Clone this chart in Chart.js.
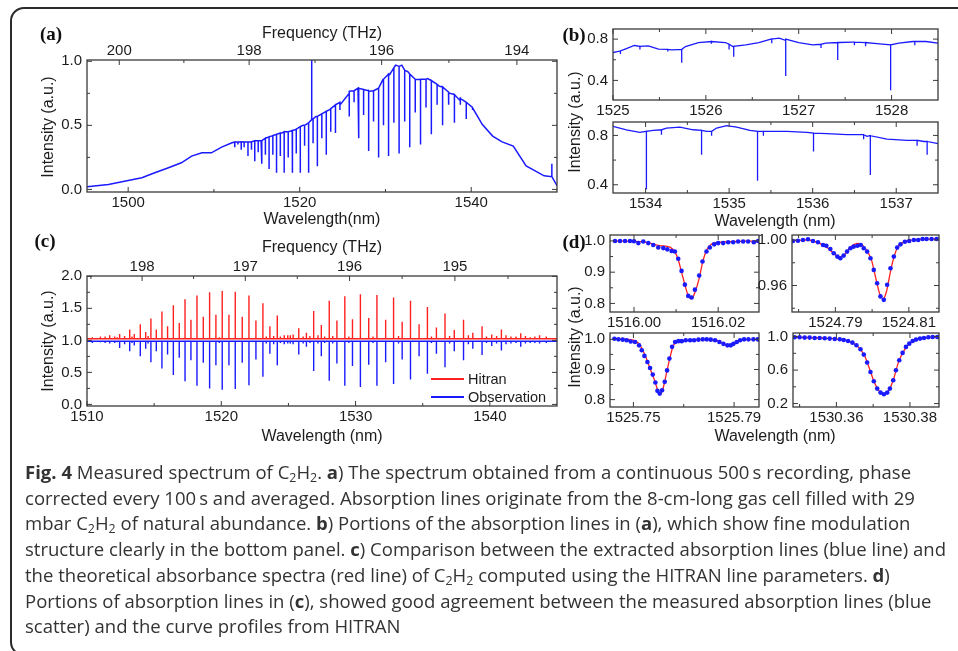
<!DOCTYPE html>
<html>
<head>
<meta charset="utf-8">
<script src="https://cdn.jsdelivr.net/npm/chart.js@4.4.1/dist/chart.umd.min.js"></script>
<style>
  body { margin: 0; width: 958px; height: 651px; overflow: hidden; position: relative; background: #fff;
         font-family: "Liberation Sans", Arial, sans-serif; color: #1c1c1c; }
  canvas { position: absolute; left: 0; top: 0; }
  .frame { position: absolute; left: 10px; top: 7px; width: 1000px; height: 645px;
           border: 2px solid #2b2b2b; border-radius: 14px; }
  .t { position: absolute; transform: translate(-50%, -50%); white-space: nowrap; font-size: 16px; }
  .r { transform: translate(-50%, -50%) rotate(-90deg); }
  .p { font-family: "Liberation Serif", "Times New Roman", serif; font-weight: bold; font-size: 19px; color: #111; }
  .leg { position: absolute; height: 2px; width: 33px; }
  .legt { position: absolute; transform: translateY(-50%); font-size: 14.5px; white-space: nowrap; }
  #caption { position: absolute; left: 25px; top: 460px; font-family: "Open Sans", "Noto Sans", sans-serif;
             font-size: 18px; line-height: 25.7px; color: #333; transform-origin: 0 0; white-space: nowrap; }
  #caption sub { font-size: 12px; line-height: 0; vertical-align: -3px; }
</style>
</head>
<body>
<div class="frame"></div>
<canvas id="pa" width="958" height="651"></canvas>
<canvas id="pb1" width="958" height="651"></canvas>
<canvas id="pb2" width="958" height="651"></canvas>
<canvas id="pc" width="958" height="651"></canvas>
<canvas id="pd1" width="958" height="651"></canvas>
<canvas id="pd2" width="958" height="651"></canvas>
<canvas id="pd3" width="958" height="651"></canvas>
<canvas id="pd4" width="958" height="651"></canvas>

<div class="t p" style="left:51px;top:34px">(a)</div>
<div class="t" style="left:322px;top:33px">Frequency (THz)</div>
<div class="t" style="left:322px;top:219px">Wavelength(nm)</div>
<div class="t r" style="left:48px;top:127px">Intensity (a.u.)</div>

<div class="t p" style="left:574px;top:35px">(b)</div>
<div class="t r" style="left:575px;top:122px">Intensity (a.u.)</div>
<div class="t" style="left:775px;top:221px">Wavelength (nm)</div>

<div class="t p" style="left:45px;top:241px">(c)</div>
<div class="t" style="left:322px;top:247px">Frequency (THz)</div>
<div class="t" style="left:322px;top:436px">Wavelength (nm)</div>
<div class="t r" style="left:48px;top:341px">Intensity (a.u.)</div>
<div class="leg" style="left:431px;top:378px;background:#ff2020"></div>
<div class="legt" style="left:468px;top:379px">Hitran</div>
<div class="leg" style="left:431px;top:396px;background:#1a1aff"></div>
<div class="legt" style="left:468px;top:397px">Observation</div>

<div class="t p" style="left:574px;top:242px">(d)</div>
<div class="t r" style="left:575px;top:337px">Intensity (a.u.)</div>
<div class="t" style="left:775px;top:436px">Wavelength (nm)</div>

<div id="caption">
  <div><span><b>Fig. 4</b> Measured spectrum of C<sub>2</sub>H<sub>2</sub>. <b>a</b>) The spectrum obtained from a continuous 500&#8201;s recording, phase</span></div>
  <div><span>corrected every 100&#8201;s and averaged. Absorption lines originate from the 8-cm-long gas cell filled with 29</span></div>
  <div><span>mbar C<sub>2</sub>H<sub>2</sub> of natural abundance. <b>b</b>) Portions of the absorption lines in (<b>a</b>), which show fine modulation</span></div>
  <div><span id="capref">structure clearly in the bottom panel. <b>c</b>) Comparison between the extracted absorption lines (blue line) and</span></div>
  <div><span>the theoretical absorbance spectra (red line) of C<sub>2</sub>H<sub>2</sub> computed using the HITRAN line parameters. <b>d</b>)</span></div>
  <div><span>Portions of absorption lines in (<b>c</b>), showed good agreement between the measured absorption lines (blue</span></div>
  <div><span>scatter) and the curve profiles from HITRAN</span></div>
</div>

<script>
// ---------------- data ----------------
const C_NM_THZ = 299792.458;

// (a) full spectrum: smooth envelope + absorption dips + two spikes
const aEnvWl = [1495.2, 1497.7, 1500.0, 1501.6, 1503.1, 1504.7, 1506.2, 1507.4, 1508.6, 1509.7,
  1510.9, 1512.1, 1513.2, 1514.4, 1515.5, 1516.7, 1517.9, 1519.2, 1520.4, 1521.9,
  1523.5, 1524.7, 1525.8, 1526.8, 1528.1, 1528.9, 1529.7, 1530.5, 1531.2, 1531.9,
  1532.6, 1533.6, 1534.9, 1536.3, 1537.4, 1538.6, 1540.2, 1541.3, 1542.5, 1543.6,
  1544.9, 1546.4, 1548.5, 1550.0];
const aEnvI = [0.021, 0.039, 0.070, 0.091, 0.130, 0.169, 0.208, 0.260, 0.286, 0.286,
  0.330, 0.364, 0.371, 0.371, 0.380, 0.416, 0.440, 0.460, 0.500, 0.570,
  0.623, 0.660, 0.766, 0.790, 0.766, 0.780, 0.857, 0.896, 0.970, 0.970,
  0.920, 0.857, 0.865, 0.805, 0.753, 0.700, 0.636, 0.506, 0.416, 0.371,
  0.338, 0.184, 0.106, 0.029];
const aDipWl = [1512.43, 1512.8, 1513.18, 1513.52, 1513.97, 1514.37, 1514.76, 1515.16, 1515.58, 1516.0,
  1516.43, 1516.87, 1517.3, 1517.74, 1518.19, 1518.66, 1519.13, 1519.6, 1520.07, 1520.57,
  1521.04, 1521.56, 1522.06, 1522.58, 1523.1, 1523.62, 1524.17, 1524.69,
  1525.77, 1526.34, 1526.88, 1527.45, 1528.04, 1528.61, 1529.2, 1529.77, 1530.36, 1530.98,
  1531.59, 1532.24, 1532.83, 1533.47, 1534.09, 1534.73, 1535.35, 1536.02, 1536.66, 1537.35,
  1538.04, 1538.73, 1539.42, 1540.14];
const aDipTop = [0.37, 0.37, 0.37, 0.37, 0.37, 0.37, 0.38, 0.38, 0.38, 0.40,
  0.41, 0.42, 0.43, 0.44, 0.45, 0.45, 0.46, 0.47, 0.49, 0.50,
  0.52, 0.55, 0.57, 0.59, 0.61, 0.63, 0.66, 0.68,
  0.75, 0.77, 0.79, 0.78, 0.77, 0.77, 0.79, 0.86, 0.90, 0.95,
  0.96, 0.93, 0.90, 0.86, 0.86, 0.86, 0.85, 0.82, 0.80, 0.76,
  0.74, 0.71, 0.68, 0.64];
const aDipLow = [0.33, 0.35, 0.31, 0.33, 0.26, 0.31, 0.22, 0.29, 0.20, 0.27,
  0.16, 0.27, 0.13, 0.26, 0.13, 0.25, 0.13, 0.28, 0.13, 0.34,
  0.13, 0.36, 0.18, 0.40, 0.27, 0.45, 0.44, 0.62,
  0.57, 0.68, 0.40, 0.58, 0.30, 0.53, 0.25, 0.50, 0.26, 0.52,
  0.28, 0.53, 0.33, 0.60, 0.35, 0.64, 0.43, 0.66, 0.50, 0.66,
  0.52, 0.66, 0.55, 0.62];
const aSpikeWl = [1521.4, 1549.4];
const aSpikeBase = [0.545, 0.10];
const aSpikeTop = [1.02, 0.20];
const aXMajor = [1500, 1520, 1540], aXMinor = [1510, 1530];
const aYMajor = [0, 0.5, 1.0], aYMinor = [0.25, 0.75];
const aFreqMajor = [200, 198, 196, 194], aFreqMinor = [199, 197, 195];

// (b) zoomed portions
const bTopEnvWl = [1525.00, 1525.13, 1525.23, 1525.38, 1525.49, 1525.63, 1525.78, 1525.92, 1526.06, 1526.21,
  1526.29, 1526.43, 1526.57, 1526.71, 1526.79, 1526.86, 1527.00, 1527.15, 1527.29, 1527.44,
  1527.58, 1527.72, 1527.87, 1527.99, 1528.08, 1528.23, 1528.37, 1528.50];
const bTopEnvI = [0.670, 0.702, 0.738, 0.735, 0.702, 0.696, 0.728, 0.767, 0.777, 0.767,
  0.728, 0.744, 0.767, 0.803, 0.809, 0.787, 0.767, 0.744, 0.761, 0.767,
  0.770, 0.767, 0.754, 0.744, 0.761, 0.777, 0.777, 0.761];
const bTopDipWl = [1525.08, 1525.29, 1525.59, 1525.74, 1526.06, 1526.25, 1526.30, 1526.71, 1526.86, 1527.24,
  1527.42, 1527.60, 1527.72, 1527.99, 1528.25];
const bTopDipTop = [0.685, 0.73, 0.70, 0.70, 0.777, 0.75, 0.73, 0.80, 0.80, 0.75,
  0.767, 0.77, 0.767, 0.744, 0.777];
const bTopDipLow = [0.655, 0.70, 0.68, 0.572, 0.754, 0.70, 0.63, 0.76, 0.442, 0.715,
  0.598, 0.74, 0.73, 0.305, 0.74];
const bBotEnvWl = [1533.61, 1533.77, 1533.93, 1534.09, 1534.25, 1534.41, 1534.57, 1534.73, 1534.85, 1534.97,
  1535.09, 1535.25, 1535.45, 1535.69, 1535.93, 1536.17, 1536.41, 1536.65, 1536.89, 1537.13,
  1537.33, 1537.50];
const bBotEnvI = [0.873, 0.846, 0.825, 0.841, 0.860, 0.868, 0.846, 0.833, 0.860, 0.879,
  0.868, 0.841, 0.833, 0.833, 0.825, 0.814, 0.806, 0.792, 0.770, 0.760,
  0.751, 0.733];
const bBotDipWl = [1534.01, 1534.19, 1534.67, 1534.79, 1535.34, 1535.41, 1536.01, 1536.61, 1536.69, 1537.25, 1537.37];
const bBotDipTop = [0.833, 0.846, 0.841, 0.833, 0.833, 0.833, 0.819, 0.806, 0.798, 0.760, 0.751];
const bBotDipLow = [0.364, 0.806, 0.643, 0.798, 0.432, 0.798, 0.670, 0.770, 0.480, 0.716, 0.643];

// (c) HITRAN vs observation, line positions and heights
const hitranBase = 1.025, obsBase = 0.985;
const cLineWl = [1511.0, 1511.69, 1512.06, 1512.43, 1512.8, 1513.18, 1513.52, 1513.97, 1514.37, 1514.76,
  1515.16, 1515.58, 1516.0, 1516.43, 1516.87, 1517.3, 1517.74, 1518.19, 1518.66, 1519.13,
  1519.6, 1520.07, 1520.57, 1521.04, 1521.56, 1522.06, 1522.58, 1523.1, 1523.62, 1524.17,
  1524.69, 1525.14,
  1525.77, 1526.34, 1526.88, 1527.45, 1528.04, 1528.61, 1529.2, 1529.77, 1530.36, 1530.98,
  1531.59, 1532.24, 1532.83, 1533.47, 1534.09, 1534.73, 1535.35, 1536.02, 1536.66, 1537.35,
  1538.04, 1538.73, 1539.42, 1540.14, 1540.86, 1541.57, 1542.3, 1543.0];
const cHitranPeak = [1.06, 1.08, 1.06, 1.10, 1.07, 1.17, 1.10, 1.25, 1.13, 1.34,
  1.17, 1.45, 1.22, 1.55, 1.27, 1.64, 1.32, 1.70, 1.37, 1.75,
  1.40, 1.77, 1.40, 1.76, 1.37, 1.70, 1.31, 1.58, 1.22, 1.39,
  1.08, 1.08,
  1.19, 1.12, 1.46, 1.24, 1.62, 1.31, 1.69, 1.33, 1.72, 1.35,
  1.71, 1.32, 1.67, 1.29, 1.62, 1.25, 1.52, 1.20, 1.42, 1.16,
  1.32, 1.12, 1.22, 1.09, 1.17, 1.06, 1.11, 1.05];
const cObsDip = [0.97, 0.95, 0.96, 0.88, 0.94, 0.83, 0.92, 0.75, 0.87, 0.66,
  0.83, 0.56, 0.78, 0.46, 0.73, 0.36, 0.69, 0.29, 0.65, 0.25,
  0.61, 0.23, 0.61, 0.24, 0.65, 0.30, 0.70, 0.43, 0.79, 0.61,
  0.94, 0.95,
  0.78, 0.90, 0.52, 0.75, 0.37, 0.64, 0.29, 0.60, 0.27, 0.62,
  0.29, 0.66, 0.32, 0.70, 0.39, 0.75, 0.48, 0.79, 0.58, 0.83,
  0.69, 0.87, 0.77, 0.91, 0.84, 0.95, 0.90, 0.96];
const cWeakWl = [1510.4, 1511.35, 1512.25, 1513.35, 1514.55, 1519.85, 1523.35, 1523.9, 1524.4, 1524.95,
  1525.35, 1526.1, 1526.6, 1527.2, 1527.7, 1528.3, 1529.5, 1531.3, 1533.2, 1535.65,
  1537.0, 1538.4, 1539.75, 1540.5, 1541.2, 1541.95, 1542.65, 1543.35, 1543.7, 1544.2];
const cWeakHitran = [1.05, 1.06, 1.05, 1.06, 1.07, 1.05, 1.06, 1.07, 1.06, 1.08,
  1.09, 1.06, 1.07, 1.08, 1.06, 1.07, 1.06, 1.06, 1.07, 1.06,
  1.07, 1.08, 1.06, 1.07, 1.08, 1.06, 1.07, 1.06, 1.08, 1.06];
const cWeakObs = [0.96, 0.96, 0.97, 0.96, 0.95, 0.96, 0.95, 0.94, 0.96, 0.95,
  0.94, 0.95, 0.96, 0.95, 0.96, 0.95, 0.96, 0.96, 0.95, 0.96,
  0.95, 0.94, 0.96, 0.95, 0.94, 0.96, 0.95, 0.96, 0.95, 0.96];
const cXMajor = [1510, 1520, 1530, 1540], cXMinor = [1515, 1525, 1535];
const cYMajor = [0, 0.5, 1.0, 1.5, 2.0], cYMinor = [0.25, 0.75, 1.25, 1.75];
const cFreqMajor = [198, 197, 196, 195], cFreqMinor = [198.5, 197.5, 196.5, 195.5, 194.5];

// (d) single line profiles: measured points and HITRAN curve
const d1DotWl = [1515.99549, 1515.99668, 1515.99787, 1515.99905, 1516.00000, 1516.00103, 1516.00221, 1516.00340,
  1516.00458, 1516.00577, 1516.00696, 1516.00791, 1516.00893, 1516.00972, 1516.01051, 1516.01130, 1516.01209,
  1516.01289, 1516.01368, 1516.01447, 1516.01549, 1516.01628, 1516.01723, 1516.01802, 1516.01905, 1516.02000,
  1516.02119, 1516.02237, 1516.02356, 1516.02474, 1516.02593, 1516.02711, 1516.02846, 1516.02949];
const d1DotI = [1.000, 1.000, 1.000, 1.000, 0.999, 0.993, 0.998, 0.993, 0.987, 0.979, 0.977, 0.973, 0.968, 0.966,
  0.943, 0.904, 0.860, 0.824, 0.819, 0.844, 0.889, 0.934, 0.966, 0.979, 0.989, 0.993, 0.993, 0.996, 0.996,
  0.998, 0.998, 0.998, 0.996, 1.000];
const d1FitWl = [1515.99549, 1516.00221, 1516.00617, 1516.00854, 1516.00972, 1516.01051, 1516.01130, 1516.01209,
  1516.01289, 1516.01368, 1516.01447, 1516.01549, 1516.01628, 1516.01723, 1516.01842, 1516.02000, 1516.02949];
const d1FitI = [1.000, 0.997, 0.985, 0.980, 0.965, 0.940, 0.900, 0.860, 0.825, 0.815, 0.835, 0.880, 0.930,
  0.970, 0.990, 0.995, 1.000];

const d2DotWl = [1524.77845, 1524.77982, 1524.78118, 1524.78255, 1524.78391, 1524.78527, 1524.78664, 1524.78755,
  1524.78864, 1524.78955, 1524.79055, 1524.79136, 1524.79227, 1524.79318, 1524.79409, 1524.79500, 1524.79600,
  1524.79691, 1524.79773, 1524.79864, 1524.79955, 1524.80045, 1524.80136, 1524.80227, 1524.80318, 1524.80409,
  1524.80500, 1524.80591, 1524.80682, 1524.80773, 1524.80891, 1524.81009, 1524.81136, 1524.81255, 1524.81373,
  1524.81482, 1524.81618, 1524.81755];
const d2DotI = [0.9991, 0.9994, 1.0000, 1.0006, 0.9991, 0.9980, 0.9956, 0.9950, 0.9921, 0.9883, 0.9854, 0.9839,
  0.9863, 0.9898, 0.9927, 0.9942, 0.9950, 0.9956, 0.9927, 0.9898, 0.9839, 0.9737, 0.9620, 0.9504, 0.9474, 0.9606,
  0.9752, 0.9854, 0.9933, 0.9962, 0.9985, 0.9991, 1.0000, 1.0000, 1.0009, 1.0009, 1.0009, 1.0009];
const d2FitWl = [1524.77845, 1524.78209, 1524.78573, 1524.78800, 1524.78982, 1524.79118, 1524.79255, 1524.79391,
  1524.79618, 1524.79709, 1524.79845, 1524.79982, 1524.80100, 1524.80209, 1524.80300, 1524.80391, 1524.80482,
  1524.80573, 1524.80682, 1524.80845, 1524.81118, 1524.81818];
const d2FitI = [0.9994, 1.0000, 0.9971, 0.9927, 0.9874, 0.9851, 0.9874, 0.9933, 0.9971, 0.9962, 0.9912, 0.9825,
  0.9664, 0.9524, 0.9483, 0.9547, 0.9693, 0.9825, 0.9927, 0.9980, 1.0000, 1.0009];

const d3DotWl = [1525.74245, 1525.74404, 1525.74576, 1525.74735, 1525.74894, 1525.75066, 1525.75225, 1525.75331,
  1525.75437, 1525.75556, 1525.75662, 1525.75768, 1525.75874, 1525.75954, 1525.76046, 1525.76139, 1525.76245,
  1525.76338, 1525.76430, 1525.76536, 1525.76656, 1525.76788, 1525.76920, 1525.77079, 1525.77252, 1525.77411,
  1525.77583, 1525.77755, 1525.77914, 1525.78073, 1525.78245, 1525.78417, 1525.78576, 1525.78735, 1525.78868,
  1525.78974, 1525.79106, 1525.79238, 1525.79397, 1525.79570, 1525.79768, 1525.79940];
const d3DotI = [1.002, 1.000, 0.999, 0.997, 0.993, 0.991, 0.980, 0.964, 0.945, 0.925, 0.905, 0.883, 0.857, 0.829,
  0.820, 0.831, 0.859, 0.897, 0.936, 0.975, 0.991, 0.994, 0.994, 0.997, 0.997, 0.997, 0.999, 1.000, 1.000, 0.999,
  0.997, 0.991, 0.985, 0.980, 0.980, 0.985, 0.991, 0.997, 1.000, 1.000, 1.000, 1.000];
const d3FitWl = [1525.74245, 1525.75000, 1525.75265, 1525.75464, 1525.75662, 1525.75861, 1525.75993, 1525.76086,
  1525.76192, 1525.76325, 1525.76457, 1525.76589, 1525.76788, 1525.77649, 1525.78311, 1525.78576, 1525.78815,
  1525.78974, 1525.79238, 1525.79993];
const d3FitI = [1.002, 0.997, 0.980, 0.947, 0.903, 0.859, 0.825, 0.820, 0.842, 0.892, 0.941, 0.980, 0.993, 0.999,
  0.997, 0.986, 0.977, 0.982, 0.997, 1.000];

const d4DotWl = [1530.34864, 1530.35000, 1530.35136, 1530.35273, 1530.35409, 1530.35545, 1530.35682, 1530.35818,
  1530.35955, 1530.36091, 1530.36200, 1530.36318, 1530.36436, 1530.36545, 1530.36655, 1530.36745, 1530.36836,
  1530.36927, 1530.37018, 1530.37109, 1530.37200, 1530.37291, 1530.37382, 1530.37455, 1530.37545, 1530.37618,
  1530.37709, 1530.37800, 1530.37891, 1530.37982, 1530.38073, 1530.38164, 1530.38273, 1530.38382, 1530.38500,
  1530.38618, 1530.38745];
const d4DotI = [0.992, 0.992, 0.988, 0.988, 0.984, 0.984, 0.980, 0.976, 0.972, 0.968, 0.960, 0.948, 0.928, 0.897,
  0.849, 0.785, 0.690, 0.578, 0.467, 0.379, 0.331, 0.311, 0.331, 0.379, 0.479, 0.598, 0.717, 0.805, 0.877, 0.916,
  0.948, 0.964, 0.976, 0.984, 0.992, 0.996, 0.996];
const d4FitWl = [1530.34864, 1530.35727, 1530.36182, 1530.36455, 1530.36636, 1530.36773, 1530.36909, 1530.37045,
  1530.37182, 1530.37291, 1530.37409, 1530.37545, 1530.37682, 1530.37818, 1530.38000, 1530.38273, 1530.38745];
const d4FitI = [0.992, 0.980, 0.960, 0.924, 0.857, 0.765, 0.606, 0.439, 0.339, 0.307, 0.347, 0.479, 0.686, 0.817,
  0.924, 0.976, 0.996];

// ---------------- helpers ----------------
const PAGE_W = 958, PAGE_H = 651;
const BLUE = "#1a1aff", RED = "#ff2020";

const toPoints = (xs, ys) => xs.map((x, i) => ({ x, y: ys[i] }));

// baseline points plus a vertical stroke (base -> end -> base) for every line
const withLines = (xs, ys, lx, lBase, lEnd) => {
  const pts = toPoints(xs, ys);
  lx.forEach((x, i) => pts.push({ x, y: lBase[i] }, { x, y: lEnd[i] }, { x, y: lBase[i] }));
  return pts.sort((p, q) => p.x - q.x);
};

const line = (data, color, width, smooth) => ({
  data, showLine: true, borderColor: color, borderWidth: width, pointRadius: 0, fill: false,
  cubicInterpolationMode: smooth ? "monotone" : "default",
});
const dots = (data) => ({ data, showLine: false, pointRadius: 2.3, pointBackgroundColor: BLUE, pointBorderWidth: 0 });

// box, inward ticks, tick labels (Origin-like)
const frameAxes = {
  id: "frameAxes",
  afterDatasetsDraw(chart, args, o) {
    const { ctx, chartArea: a } = chart;
    const X = (v) => chart.scales.x.getPixelForValue(v);
    const Y = (v) => chart.scales.y.getPixelForValue(v);
    const seg = (x1, y1, x2, y2) => { ctx.beginPath(); ctx.moveTo(x1, y1); ctx.lineTo(x2, y2); ctx.stroke(); };
    ctx.save();
    ctx.strokeStyle = "#3a3a3a";
    ctx.lineWidth = 1;
    const xTicks = (vals, len) => vals.forEach((v) => {
      const p = X(v);
      seg(p, a.bottom, p, a.bottom - len);
      if (!o.freq) seg(p, a.top, p, a.top + len);
    });
    const yTicks = (vals, len) => vals.forEach((v) => {
      const p = Y(v);
      seg(a.left, p, a.left + len, p);
      seg(a.right, p, a.right - len, p);
    });
    xTicks(o.x.major, 5); xTicks(o.x.minor, 3);
    yTicks(o.y.major, 5); yTicks(o.y.minor, 3);
    if (o.freq) {
      o.freq.major.forEach((f) => seg(X(C_NM_THZ / f), a.top, X(C_NM_THZ / f), a.top + 5));
      o.freq.minor.forEach((f) => seg(X(C_NM_THZ / f), a.top, X(C_NM_THZ / f), a.top + 3));
    }
    ctx.lineWidth = 1.3;
    ctx.strokeRect(a.left, a.top, a.right - a.left, a.bottom - a.top);

    ctx.fillStyle = "#1c1c1c";
    ctx.font = "15px 'Liberation Sans', Arial, sans-serif";
    ctx.textAlign = "center";
    ctx.textBaseline = "top";
    o.x.major.forEach((v) => ctx.fillText(v.toFixed(o.x.dec), X(v), a.bottom + 3));
    ctx.textAlign = "right";
    ctx.textBaseline = "middle";
    o.y.major.forEach((v) => ctx.fillText(v.toFixed(o.y.dec), a.left - 5, Y(v)));
    if (o.freq) {
      ctx.textAlign = "center";
      ctx.textBaseline = "alphabetic";
      o.freq.major.forEach((f) => ctx.fillText(String(f), X(C_NM_THZ / f), a.top - 5));
    }
    ctx.restore();
  },
};

const panel = (id, area, xr, yr, datasets, axes) => new Chart(document.getElementById(id), {
  type: "scatter",
  data: { datasets },
  options: {
    responsive: false,
    animation: false,
    events: [],
    layout: { padding: { left: area[0], top: area[1], right: PAGE_W - area[2], bottom: PAGE_H - area[3] } },
    scales: {
      x: { type: "linear", min: xr[0], max: xr[1], bounds: "data", display: false },
      y: { type: "linear", min: yr[0], max: yr[1], bounds: "data", display: false },
    },
    plugins: { legend: { display: false }, tooltip: { enabled: false }, frameAxes: axes },
  },
  plugins: [frameAxes],
});

// ---------------- panels ----------------
panel("pa", [87, 60, 557, 192], [1495.2, 1550], [-0.02, 1.01],
  [line(withLines(aEnvWl, aEnvI, aDipWl.concat(aSpikeWl), aDipTop.concat(aSpikeBase), aDipLow.concat(aSpikeTop)), BLUE, 1.5)],
  { x: { major: aXMajor, minor: aXMinor, dec: 0 }, y: { major: aYMajor, minor: aYMinor, dec: 1 },
    freq: { major: aFreqMajor, minor: aFreqMinor } });

panel("pb1", [613, 29, 938, 100], [1525, 1528.5], [0.21, 0.898],
  [line(withLines(bTopEnvWl, bTopEnvI, bTopDipWl, bTopDipTop, bTopDipLow), BLUE, 1.3)],
  { x: { major: [1525, 1526, 1527, 1528], minor: [1525.5, 1526.5, 1527.5], dec: 0 },
    y: { major: [0.4, 0.8], minor: [0.6], dec: 1 } });

panel("pb2", [613, 122, 938, 193], [1533.61, 1537.5], [0.333, 0.909],
  [line(withLines(bBotEnvWl, bBotEnvI, bBotDipWl, bBotDipTop, bBotDipLow), BLUE, 1.3)],
  { x: { major: [1534, 1535, 1536, 1537], minor: [1534.5, 1535.5, 1536.5], dec: 0 },
    y: { major: [0.4, 0.8], minor: [0.6], dec: 1 } });

const cAllWl = cLineWl.concat(cWeakWl);
panel("pc", [87, 276, 557, 406], [1510, 1545], [-0.025, 2.005],
  [
    line(withLines([1510, 1545], [obsBase, obsBase], cAllWl, cAllWl.map(() => obsBase), cObsDip.concat(cWeakObs)), BLUE, 1.4),
    line(withLines([1510, 1545], [hitranBase, hitranBase], cAllWl, cAllWl.map(() => hitranBase), cHitranPeak.concat(cWeakHitran)), RED, 1.4),
  ],
  { x: { major: cXMajor, minor: cXMinor, dec: 0 }, y: { major: cYMajor, minor: cYMinor, dec: 1 },
    freq: { major: cFreqMajor, minor: cFreqMinor } });

panel("pd1", [610, 235, 759, 312], [1515.9943, 1516.0297], [0.7725, 1.019],
  [dots(toPoints(d1DotWl, d1DotI)), line(toPoints(d1FitWl, d1FitI), RED, 1.3, true)],
  { x: { major: [1516.00, 1516.02], minor: [1516.01], dec: 2 }, y: { major: [0.8, 0.9, 1.0], minor: [0.85, 0.95], dec: 1 } });

panel("pd2", [792, 235, 939, 312], [1524.7782, 1524.8182], [0.9367, 1.0044],
  [dots(toPoints(d2DotWl, d2DotI)), line(toPoints(d2FitWl, d2FitI), RED, 1.3, true)],
  { x: { major: [1524.79, 1524.81], minor: [1524.78, 1524.80], dec: 2 }, y: { major: [0.96, 1.00], minor: [0.94, 0.98], dec: 2 } });

panel("pd3", [610, 333, 759, 407], [1525.7407, 1525.7999], [0.7755, 1.021],
  [dots(toPoints(d3DotWl, d3DotI)), line(toPoints(d3FitWl, d3FitI), RED, 1.3, true)],
  { x: { major: [1525.75, 1525.79], minor: [1525.77], dec: 2 }, y: { major: [0.8, 0.9, 1.0], minor: [0.85, 0.95], dec: 1 } });

panel("pd4", [793, 333, 939, 407], [1530.3482, 1530.3879], [0.159, 1.043],
  [dots(toPoints(d4DotWl, d4DotI)), line(toPoints(d4FitWl, d4FitI), RED, 1.3, true)],
  { x: { major: [1530.36, 1530.38], minor: [1530.35, 1530.37], dec: 2 }, y: { major: [0.2, 0.6, 1.0], minor: [0.4, 0.8], dec: 1 } });

// fit the caption lines to the width they take in the figure
const capW = document.getElementById("capref").getBoundingClientRect().width;
document.getElementById("caption").style.transform = "scaleX(" + (921 / capW).toFixed(4) + ")";
</script>
</body>
</html>
